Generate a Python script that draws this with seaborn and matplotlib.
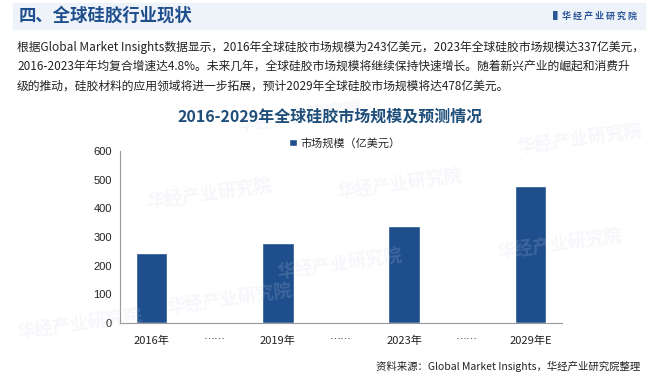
import numpy as np
import pandas as pd
import matplotlib.pyplot as plt
import matplotlib.patches as mpatches
import seaborn as sns

# chart data
categories = ["2016年", "……", "2019年", "……", "2023年", "……", "2029年E"]
market_size = [243, np.nan, 279, np.nan, 337, np.nan, 478]
series_name = "市场规模（亿美元）"
y_ticks = [0, 100, 200, 300, 400, 500, 600]

header = "四、全球硅胶行业现状"
brand = "华经产业研究院"
paragraph = [
    "根据Global Market Insights数据显示，2016年全球硅胶市场规模为243亿美元，2023年全球硅胶市场规模达337亿美元，",
    "2016-2023年年均复合增速达4.8%。未来几年，全球硅胶市场规模将继续保持快速增长。随着新兴产业的崛起和消费升",
    "级的推动，硅胶材料的应用领域将进一步拓展，预计2029年全球硅胶市场规模将达478亿美元。",
]
chart_title = "2016-2029年全球硅胶市场规模及预测情况"
source = "资料来源：Global Market Insights，华经产业研究院整理"

sns.set_theme(style="white")
plt.rcParams["font.family"] = ["Noto Sans CJK SC", "DejaVu Sans"]

df = pd.DataFrame({"pos": range(len(categories)), "value": market_size})

fig = plt.figure(figsize=(6.6, 3.75), dpi=100)
fig.patch.set_facecolor("white")

# header band
fig.patches.append(mpatches.Rectangle((13 / 660, 1 - 29 / 375), 632 / 660, 26 / 375,
                                      transform=fig.transFigure, color="#eef3fa", zorder=0))
fig.text(19 / 660, 1 - 16 / 375, header, fontsize=12.5, fontweight="bold",
         color="#1f4e8c", va="center", ha="left")
fig.text(637 / 660, 1 - 16 / 375, "▌" + " ".join(brand), fontsize=6.5, fontweight="bold",
         color="#2a5597", va="center", ha="right", family=["Noto Sans CJK SC", "DejaVu Sans"])

# paragraph
for i, line in enumerate(paragraph):
    fig.text(17 / 660, 1 - (47 + i * 19.5) / 375, line, fontsize=8.5, color="#222222",
             va="center", ha="left")

# faint watermarks
for (wx, wy) in [(300, 118), (400, 185), (210, 195), (560, 245), (230, 300), (340, 265), (80, 325), (580, 140)]:
    fig.text(wx / 660, 1 - wy / 375, brand, fontsize=13, fontweight="bold", color="#c9d3e3",
             alpha=0.18, rotation=8, ha="center", va="center", zorder=0)

fig.text(0.5, 1 - 117 / 375, chart_title, fontsize=11.5, fontweight="bold",
         color="#1f4e79", ha="center", va="center")

ax = fig.add_axes([120 / 660, 1 - 323 / 375, 442 / 660, 172 / 375])
ax.set_facecolor("none")
sns.barplot(data=df, x="pos", y="value", color="#1f4e8c", width=0.5,
            saturation=1, ax=ax, label=series_name, native_scale=False)

ax.set_xlim(-0.5, len(categories) - 0.5)
ax.set_ylim(0, 600)
ax.set_yticks(y_ticks)
ax.set_yticklabels([str(v) for v in y_ticks], fontsize=8, color="#222222",
                   family=["Liberation Sans", "DejaVu Sans"])
ax.set_xticks(range(len(categories)))
ax.set_xticklabels(categories, fontsize=8, color="#222222")
ax.set_xticks(np.arange(-0.5, len(categories), 1), minor=True)
ax.tick_params(axis="x", which="major", length=0, pad=9)
ax.tick_params(axis="x", which="minor", length=4, color="#999999", width=0.8, direction="out")
ax.tick_params(axis="y", which="major", length=3, color="#999999", width=0.8, direction="out", pad=3)
ax.set_xlabel("")
ax.set_ylabel("")
for s in ["top", "right"]:
    ax.spines[s].set_visible(False)
for s in ["left", "bottom"]:
    ax.spines[s].set_color("#999999")
    ax.spines[s].set_linewidth(0.8)

leg = ax.legend(loc="center", bbox_to_anchor=(345 / 660, 1 - 143 / 375),
                bbox_transform=fig.transFigure, frameon=False, fontsize=8,
                handlelength=0.7, handleheight=0.7, handletextpad=0.3)

fig.text(640 / 660, 1 - 366 / 375, source, fontsize=7.5, color="#222222",
         ha="right", va="center")

fig.savefig("out.png", dpi=100)
